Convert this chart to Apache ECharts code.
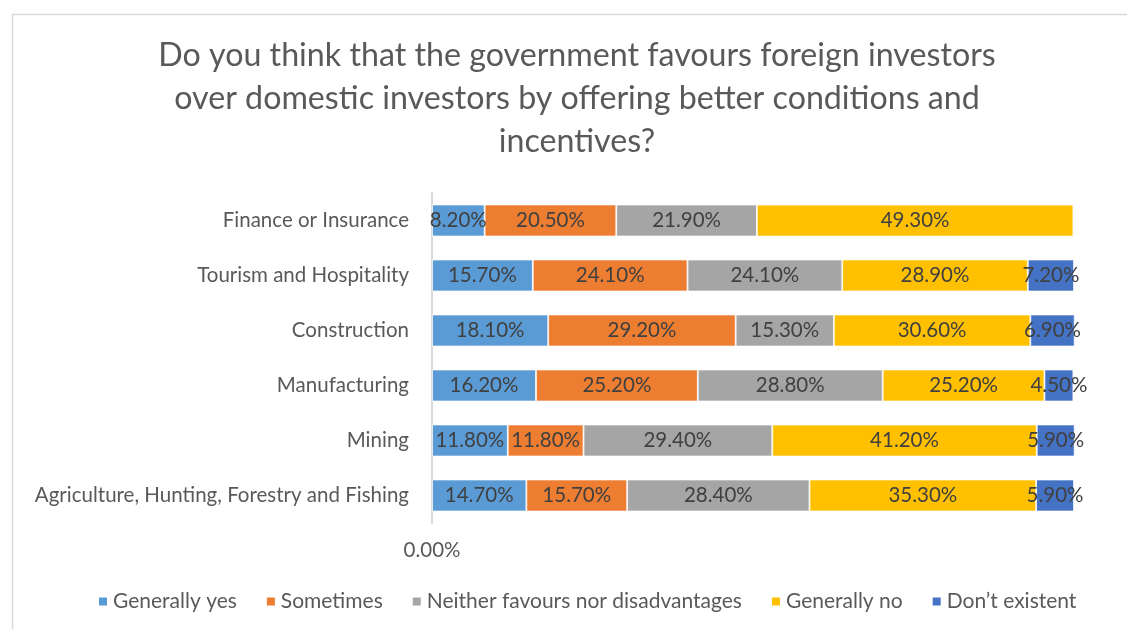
<!DOCTYPE html>
<html>
<head>
<meta charset="utf-8">
<title>Government treatment of foreign vs domestic investors</title>
<script src="https://cdn.jsdelivr.net/npm/echarts@6/dist/echarts.min.js"></script>
<style>
  html, body { margin: 0; padding: 0; background: #fff; }
  #chart { width: 1127px; height: 629px; }
</style>
</head>
<body>
<div id="chart"></div>
<script>
// Sectors, listed bottom-to-top as the category axis draws them
const sectors = [
  'Agriculture, Hunting, Forestry and Fishing',
  'Mining',
  'Manufacturing',
  'Construction',
  'Tourism and Hospitality',
  'Finance or Insurance'
];

// Share of respondents per answer (%), same order as sectors
const generallyYes = [14.7, 11.8, 16.2, 18.1, 15.7, 8.2];
const sometimes    = [15.7, 11.8, 25.2, 29.2, 24.1, 20.5];
const neither      = [28.4, 29.4, 28.8, 15.3, 24.1, 21.9];
const generallyNo  = [35.3, 41.2, 25.2, 30.6, 28.9, 49.3];
const dontExist    = [5.9, 5.9, 4.5, 6.9, 7.2, null];

const answerNames = [
  'Generally yes',
  'Sometimes',
  'Neither favours nor disadvantages',
  'Generally no',
  'Don\u2019t existent'
];
const answerValues = [generallyYes, sometimes, neither, generallyNo, dontExist];
const answerColors = ['#5B9BD5', '#ED7D31', '#A5A5A5', '#FFC000', '#4472C4'];

const titleLines = [
  'Do you think that the government favours foreign investors',
  'over domestic investors by offering better conditions and',
  'incentives?'
];

const FONT = 'Lato, "Open Sans", sans-serif';
const TEXT_SIZE = 20.5;

const chart = echarts.init(document.getElementById('chart'), null, { renderer: 'canvas' });

const series = answerNames.map((name, i) => ({
  name: name,
  type: 'bar',
  stack: 'total',
  barWidth: 32,
  clip: false,
  data: answerValues[i],
  itemStyle: { color: answerColors[i], borderColor: '#ffffff', borderWidth: 0.8 },
  label: {
    show: true,
    position: 'inside',
    color: '#404040',
    fontFamily: FONT,
    fontSize: TEXT_SIZE,
    formatter: p => (p.value == null ? '' : p.value.toFixed(2) + '%')
  },
  emphasis: { disabled: true }
}));

// Frame and centred multi-line title
const graphics = [{
  type: 'rect',
  shape: { x: 12.5, y: 14.5, width: 1300, height: 800 },
  style: { fill: 'none', stroke: '#D9D9D9', lineWidth: 1.5 },
  silent: true
}].concat(titleLines.map((line, i) => ({
  type: 'text',
  x: 577,
  y: 56 + i * 43,
  silent: true,
  style: {
    text: line,
    align: 'center',
    verticalAlign: 'middle',
    fontFamily: FONT,
    fontSize: 32.2,
    fill: '#595959'
  }
})));

chart.setOption({
  backgroundColor: '#ffffff',
  animation: false,
  graphic: graphics,
  legend: {
    bottom: 12,
    left: 92,
    icon: 'rect',
    itemWidth: 10,
    itemHeight: 10,
    itemGap: 28,
    textStyle: { fontFamily: FONT, fontSize: 21, color: '#595959' },
    data: answerNames
  },
  grid: { left: 432, right: 53, top: 193, bottom: 106, containLabel: false },
  xAxis: {
    type: 'value',
    min: 0,
    max: 100,
    interval: 100,
    axisLine: { show: false },
    axisTick: { show: false },
    splitLine: { show: false },
    axisLabel: {
      margin: 17,
      color: '#595959',
      fontFamily: FONT,
      fontSize: TEXT_SIZE,
      showMaxLabel: false,
      formatter: v => (v === 0 ? v.toFixed(2) + '%' : '')
    }
  },
  yAxis: {
    type: 'category',
    data: sectors,
    axisLine: { show: true, lineStyle: { color: '#D9D9D9', width: 2 } },
    axisTick: { show: false },
    axisLabel: {
      margin: 23,
      color: '#595959',
      fontFamily: FONT,
      fontSize: TEXT_SIZE
    }
  },
  series: series
});
</script>
</body>
</html>
